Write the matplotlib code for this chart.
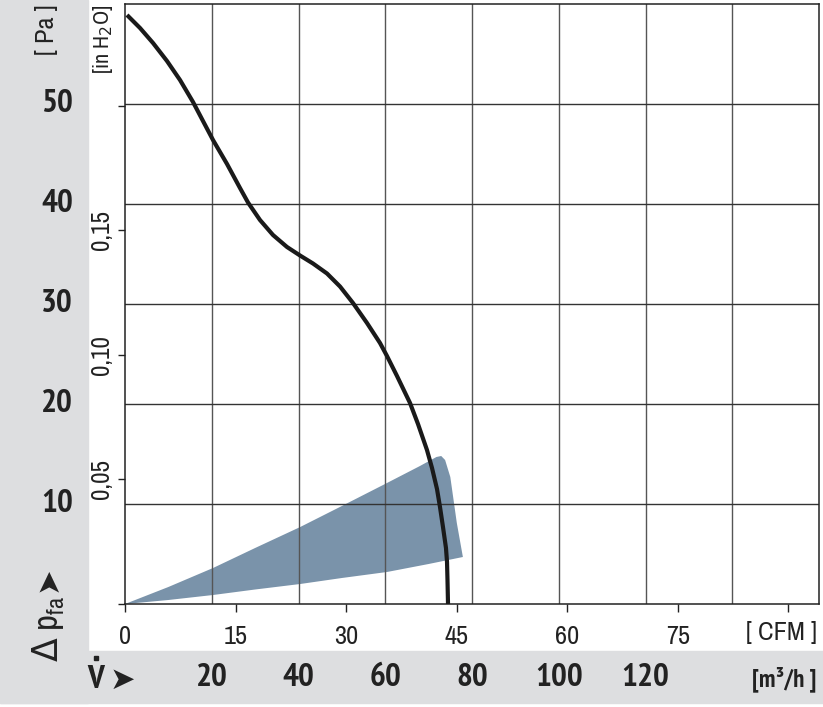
import matplotlib.pyplot as plt
from matplotlib import font_manager
from matplotlib.patches import Rectangle
from matplotlib.lines import Line2D
import matplotlib.transforms as mtransforms

# Kennlinie: Volumenstrom [m³/h] und Druck [Pa]
flow_m3h = [0.46, 3.46, 6.46, 9.68, 12.68, 15.68, 17.98, 20.29, 23.52, 26.51, 28.36,
            31.12, 34.12, 37.35, 40.35, 43.34, 46.57, 49.57, 52.56, 55.79, 58.79,
            60.40, 62.71, 65.71, 67.55, 69.62, 70.78, 71.93, 72.62, 73.31, 74.0,
            74.24, 74.35, 74.47]
pressure_pa = [58.9, 57.6, 56.1, 54.3, 52.4, 50.2, 48.3, 46.4, 44.0, 41.6, 40.15,
               38.4, 36.9, 35.7, 34.85, 34.05, 33.05, 31.75, 30.1, 28.1, 26.1,
               24.8, 22.8, 20.1, 18.0, 15.4, 13.6, 11.5, 9.7, 7.7, 5.6,
               4.2, 2.4, 0.0]

# Betriebsbereich (Flaeche)
area_m3h = [0, 10, 20.3, 30, 40.4, 50, 60.4, 68, 71.8, 72.9, 73.8, 75.0, 76.5,
            77.9, 70, 60.4, 50, 40.4, 30, 20.3, 10, 0]
area_pa = [0, 1.7, 3.6, 5.6, 7.7, 9.8, 12.1, 13.8, 14.7, 14.8, 14.4, 12.7, 8.1,
           4.7, 4.0, 3.2, 2.6, 2.0, 1.45, 0.9, 0.4, 0]

pa_labels = [10, 20, 30, 40, 50]
m3h_labels = [20, 40, 60, 80, 100, 120]
cfm_ticks = [0, 15, 30, 45, 60, 75, 90]
inh2o_ticks = [0, 0.05, 0.10, 0.15, 0.20]

CFM_TO_M3H = 1.699
INH2O_TO_PA = 249.09

# schmale Schrift suchen (normal + fett)
entries = font_manager.fontManager.ttflist
names = sorted({f.name for f in entries})
narrow = [n for n in names if 'Narrow' in n] + [n for n in names if 'Condensed' in n]
FONT = narrow[0] if narrow else 'Liberation Sans'

def is_bold(f):
    w = f.weight
    if isinstance(w, str):
        return 'bold' in w.lower()
    return w >= 600

if any(f.name == FONT and is_bold(f) for f in entries):
    FONT_B = FONT
else:
    bold_names = [n for n in narrow if 'Bold' in n and 'Extra' not in n]
    bold_names += [n for n in narrow if any(f.name == n and is_bold(f) for f in entries)]
    FONT_B = bold_names[0] if bold_names else FONT

plt.rcParams['font.family'] = [FONT, 'DejaVu Sans']

W, H = 823, 707
fig = plt.figure(figsize=(W / 100, H / 100), dpi=100)

def fx(px):
    return px / W

def fy(py):
    return 1 - py / H

gray = '#dddee0'
fig.patches.append(Rectangle((0, fy(703)), fx(88), fy(0) - fy(703), transform=fig.transFigure,
                             color=gray, zorder=-1))
fig.patches.append(Rectangle((0, fy(703)), 1, fy(651) - fy(703), transform=fig.transFigure,
                             color=gray, zorder=-1))

ax = fig.add_axes([fx(125), fy(604), fx(819) - fx(125), fy(4) - fy(604)])
ax.set_xlim(0, 160)
ax.set_ylim(0, 60)
ax.patch.set_alpha(0)

# Gitter
for x in range(20, 160, 20):
    ax.axvline(x, color='#555555', lw=1, zorder=2)
for y in range(10, 60, 10):
    ax.axhline(y, color='#333333', lw=1, zorder=2)

ax.fill(area_m3h, area_pa, color='#7a93aa', lw=0, zorder=1)
ax.plot(flow_m3h, pressure_pa, color='#1a1a1a', lw=3, solid_capstyle='butt',
        solid_joinstyle='round', zorder=3)

for s in ax.spines.values():
    s.set_color('#222222')
    s.set_linewidth(1.1)

txt = '#222222'

# CFM unten
ax.set_xticks([c * CFM_TO_M3H for c in cfm_ticks])
ax.set_xticklabels([str(c) for c in cfm_ticks[:-1]] + [''])
ax.tick_params(axis='x', direction='out', length=6, width=1, pad=9, labelsize=19,
               colors=txt)
fig.text(fx(781), fy(633), '[ CFM ]', ha='center', va='center', fontsize=19, color=txt)

# in H2O links
ax.set_yticks([v * INH2O_TO_PA for v in inh2o_ticks])
ax.set_yticklabels(['', '0,05', '0,10', '0,15', ''], rotation=90, va='center')
ax.tick_params(axis='y', direction='out', length=5, width=1, pad=4, labelsize=18,
               colors=txt)
fig.text(fx(103), fy(39), '[in H$_2$O]', rotation=90, ha='center', va='center', fontsize=16,
         color=txt)

# Pa Skala
trans_pa = mtransforms.blended_transform_factory(fig.transFigure, ax.transData)
for p in pa_labels:
    ax.text(fx(57), p, str(p), transform=trans_pa, ha='center', va='center',
            fontsize=24, fontweight='bold', family=[FONT_B, 'DejaVu Sans'], color=txt)
fig.text(fx(46), fy(30), '[ Pa ]', rotation=90, ha='center', va='center', fontsize=19,
         color=txt)
fig.text(fx(48), fy(629), '$\\Delta$ p$_{\\mathregular{fa}}$', rotation=90, ha='center',
         va='center', fontsize=25, color=txt)
fig.text(fx(48), fy(579), '\u27a4', rotation=90, ha='center', va='center', fontsize=22,
         color=txt, family='DejaVu Sans')

# m³/h Skala
trans_m3 = mtransforms.blended_transform_factory(ax.transData, fig.transFigure)
for m in m3h_labels:
    ax.text(m, fy(678), str(m), transform=trans_m3, ha='center', va='center',
            fontsize=24, fontweight='bold', family=[FONT_B, 'DejaVu Sans'], color=txt)
fig.text(fx(784), fy(679), '[m³/h ]', ha='center', va='center', fontsize=18,
         fontweight='bold', family=[FONT_B, 'DejaVu Sans'], color=txt)
fig.text(fx(96), fy(680), 'V', ha='center', va='center', fontsize=24, fontweight='bold',
         family=[FONT_B, 'DejaVu Sans'], color=txt)
fig.add_artist(Line2D([fx(96)], [fy(658)], marker='s', ms=3.5, color=txt, lw=0,
                      transform=fig.transFigure))
fig.text(fx(122), fy(680), '\u27a4', ha='center', va='center', fontsize=22,
         color=txt, family='DejaVu Sans')

fig.savefig('out.png', dpi=100)
